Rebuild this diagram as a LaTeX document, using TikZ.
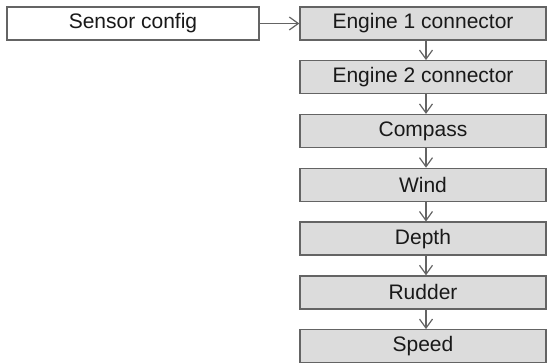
\documentclass[tikz,border=0pt]{standalone}
\usepackage{fontspec}
\setmainfont{Liberation Sans}
\usetikzlibrary{arrows.meta}
\definecolor{boxline}{HTML}{646464}
\definecolor{boxfill}{HTML}{DCDCDC}
\begin{document}
\begin{tikzpicture}[x=1pt,y=1pt,
  box/.style={draw=boxline, line width=1.4pt, minimum height=33pt, inner sep=0pt,
    font=\fontsize{21}{24}\selectfont, text=black!90},
  stepbox/.style={box, fill=boxfill, minimum width=246pt},
  conn/.style={draw=boxline, line width=1.2pt, -{Straight Barb[length=9pt,width=13pt,line width=1.2pt]}}]
\useasboundingbox (0,0) rectangle (547,363);
\node[box, fill=white, minimum width=252pt] (sc) at (133,339.5) {Sensor config};
\foreach \n/\t [count=\i from 0] in {e1/Engine 1 connector, e2/Engine 2 connector, co/Compass, wi/Wind, de/Depth, ru/Rudder, sp/Speed}{
  \node[stepbox] (\n) at (423,{363-7-16.5-53.8*\i}) {\t};
}
\draw[conn] (sc.east) -- (e1.west);
\foreach \a/\b in {e1/e2, e2/co, co/wi, wi/de, de/ru, ru/sp}{
  \draw[conn] ([xshift=3pt]\a.south) -- ([xshift=3pt]\b.north);
}
\end{tikzpicture}
\end{document}
